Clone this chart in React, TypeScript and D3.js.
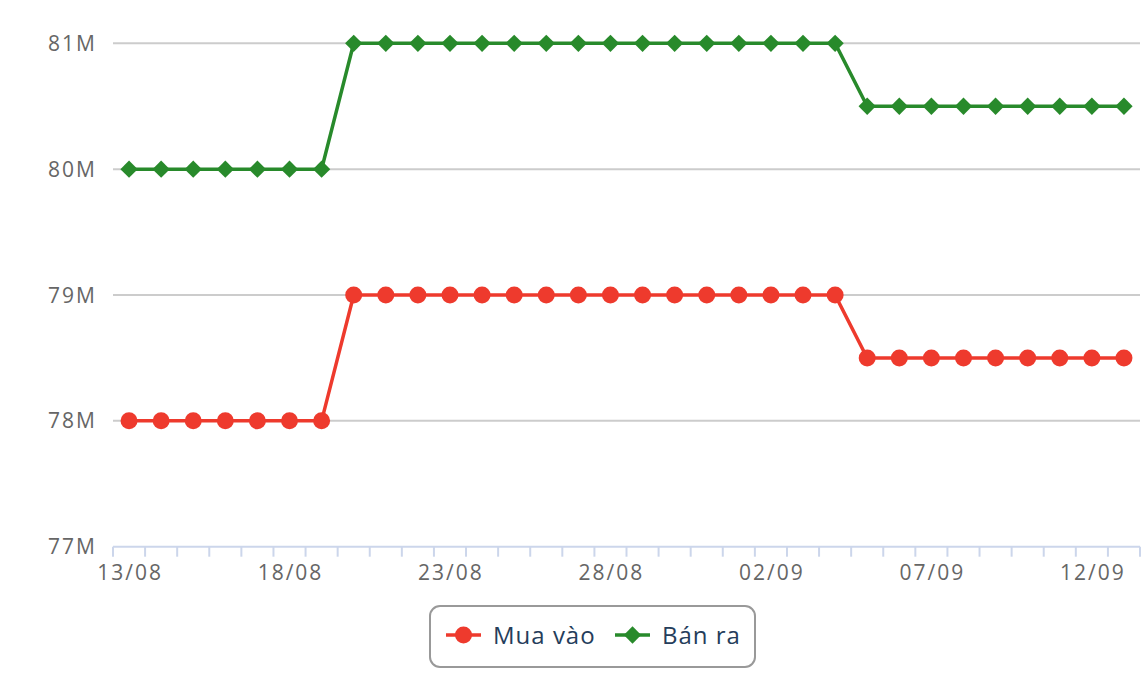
import { useEffect, useRef } from "react";
import * as d3 from "d3";

const dates = [
  "13/08", "14/08", "15/08", "16/08", "17/08", "18/08", "19/08", "20/08",
  "21/08", "22/08", "23/08", "24/08", "25/08", "26/08", "27/08", "28/08",
  "29/08", "30/08", "31/08", "01/09", "02/09", "03/09", "04/09", "05/09",
  "06/09", "07/09", "08/09", "09/09", "10/09", "11/09", "12/09", "13/09",
];

// values in millions
const buyValues = [
  78, 78, 78, 78, 78, 78, 78,
  79, 79, 79, 79, 79, 79, 79, 79, 79, 79, 79, 79, 79, 79, 79, 79,
  78.5, 78.5, 78.5, 78.5, 78.5, 78.5, 78.5, 78.5, 78.5,
];
const sellValues = [
  80, 80, 80, 80, 80, 80, 80,
  81, 81, 81, 81, 81, 81, 81, 81, 81, 81, 81, 81, 81, 81, 81, 81,
  80.5, 80.5, 80.5, 80.5, 80.5, 80.5, 80.5, 80.5, 80.5,
];
const yTicks = [77, 78, 79, 80, 81];

const RED = "#ee3a2d";
const GREEN = "#288a2b";
const FONT = "'Open Sans', 'Noto Sans', sans-serif";

export default function App() {
  const ref = useRef<SVGSVGElement>(null);

  useEffect(() => {
    if (!ref.current) return;
    const width = 1143;
    const height = 676;
    const left = 113;
    const right = 1140;
    const top = 43.3;
    const bottom = 546.7;

    const svg = d3.select(ref.current);
    svg.selectAll("*").remove();
    svg.attr("width", width).attr("height", height);

    const x = d3.scaleBand<string>().domain(dates).range([left, right]);
    const cx = (d: string) => (x(d) ?? 0) + x.bandwidth() / 2;
    const y = d3.scaleLinear().domain([77, 81]).range([bottom, top]);

    // gridlines
    svg
      .append("g")
      .selectAll("line")
      .data(yTicks.slice(1))
      .join("line")
      .attr("x1", left)
      .attr("x2", right)
      .attr("y1", (d) => y(d))
      .attr("y2", (d) => y(d))
      .attr("stroke", "#cccccc")
      .attr("stroke-width", 2);

    // y labels
    svg
      .append("g")
      .selectAll("text")
      .data(yTicks)
      .join("text")
      .attr("x", 97)
      .attr("y", (d) => y(d))
      .attr("dy", "0.36em")
      .attr("text-anchor", "end")
      .attr("font-family", FONT)
      .attr("font-size", 21)
      .attr("letter-spacing", 2)
      .attr("fill", "#666666")
      .text((d) => `${d}M`);

    // x axis line and ticks
    const axis = svg.append("g");
    axis
      .append("line")
      .attr("x1", left)
      .attr("x2", right)
      .attr("y1", bottom)
      .attr("y2", bottom)
      .attr("stroke", "#ccd6eb")
      .attr("stroke-width", 2);
    const bounds = dates.map((d) => x(d) ?? 0).concat([right]);
    axis
      .selectAll("line.tick")
      .data(bounds)
      .join("line")
      .attr("class", "tick")
      .attr("x1", (d) => d)
      .attr("x2", (d) => d)
      .attr("y1", bottom)
      .attr("y2", bottom + 10)
      .attr("stroke", "#ccd6eb")
      .attr("stroke-width", 2);
    axis
      .selectAll("text")
      .data(dates.filter((_, i) => i % 5 === 0))
      .join("text")
      .attr("x", (d) => cx(d) + 1)
      .attr("y", 580)
      .attr("text-anchor", "middle")
      .attr("font-family", FONT)
      .attr("font-size", 21)
      .attr("letter-spacing", 2)
      .attr("fill", "#666666")
      .text((d) => d);

    const line = d3
      .line<number>()
      .x((_, i) => cx(dates[i]))
      .y((d) => y(d));

    const diamond = d3.symbol().type(d3.symbolSquare).size(150);

    // sell series
    svg
      .append("path")
      .attr("d", line(sellValues))
      .attr("fill", "none")
      .attr("stroke", GREEN)
      .attr("stroke-width", 3.5);
    svg
      .append("g")
      .selectAll("path")
      .data(sellValues)
      .join("path")
      .attr("d", diamond)
      .attr("transform", (d, i) => `translate(${cx(dates[i])},${y(d)}) rotate(45)`)
      .attr("fill", GREEN);

    // buy series
    svg
      .append("path")
      .attr("d", line(buyValues))
      .attr("fill", "none")
      .attr("stroke", RED)
      .attr("stroke-width", 3.5);
    svg
      .append("g")
      .selectAll("circle")
      .data(buyValues)
      .join("circle")
      .attr("cx", (_, i) => cx(dates[i]))
      .attr("cy", (d) => y(d))
      .attr("r", 8.5)
      .attr("fill", RED);

    // legend
    const lg = svg.append("g");
    lg.append("rect")
      .attr("x", 430)
      .attr("y", 606)
      .attr("width", 325)
      .attr("height", 61)
      .attr("rx", 10)
      .attr("fill", "#ffffff")
      .attr("stroke", "#999999")
      .attr("stroke-width", 2);
    const items = [
      { name: "Mua vào", color: RED, x: 446, kind: "circle" },
      { name: "Bán ra", color: GREEN, x: 615, kind: "diamond" },
    ];
    items.forEach((it) => {
      const ly = 635;
      lg.append("line")
        .attr("x1", it.x)
        .attr("x2", it.x + 35)
        .attr("y1", ly)
        .attr("y2", ly)
        .attr("stroke", it.color)
        .attr("stroke-width", 3.5);
      if (it.kind === "circle") {
        lg.append("circle").attr("cx", it.x + 17.5).attr("cy", ly).attr("r", 8.5).attr("fill", it.color);
      } else {
        lg.append("path")
          .attr("d", diamond())
          .attr("transform", `translate(${it.x + 17.5},${ly}) rotate(45)`)
          .attr("fill", it.color);
      }
      lg.append("text")
        .attr("x", it.x + 47)
        .attr("y", ly)
        .attr("dy", "0.36em")
        .attr("font-family", FONT)
        .attr("font-size", 24)
        .attr("letter-spacing", 1)
        .attr("fill", "#253d5b")
        .text(it.name);
    });
  }, []);

  return <svg ref={ref} style={{ position: "absolute", left: 0, top: 0 }} />;
}
